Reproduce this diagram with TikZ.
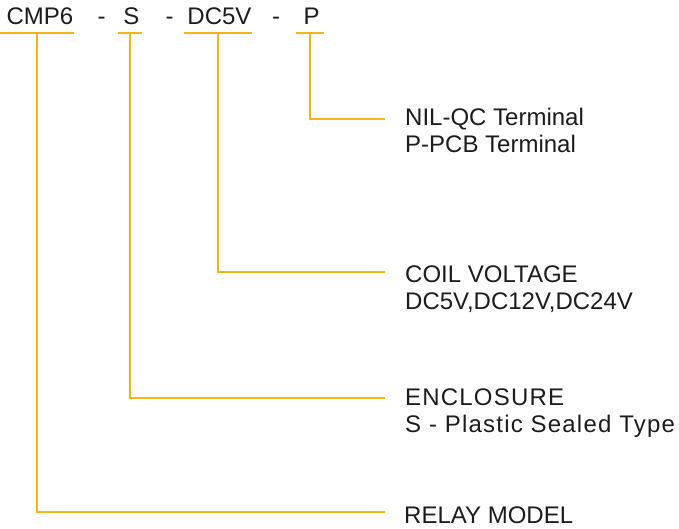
\documentclass[tikz,border=0pt]{standalone}
\usepackage{fontspec}
\setmainfont{Liberation Sans}
\newfontfamily\widefont[LetterSpace=5]{Liberation Sans}
\usepackage{xcolor}
\usepackage{tikz}
\usetikzlibrary{positioning}
\definecolor{leadcolor}{RGB}{246,180,22}
\definecolor{inkcolor}{RGB}{30,27,28}

\tikzset{
    codefont/.style={font=\fontsize{24}{27}\selectfont},
    part/.style={codefont, text=inkcolor, anchor=base, inner xsep=0pt, inner ysep=8pt, text height=17pt, text depth=0pt},
    lead/.style={draw=leadcolor, line width=1.9pt},
    desc/.style={codefont, text=inkcolor, anchor=base west, align=left, inner sep=0pt}
}

\begin{document}
\begin{tikzpicture}[x=1pt, y=-1pt]
    \useasboundingbox (0,0) rectangle (679,529);

    % Part number
    \node[part, minimum width=66pt] (model) at (37,25) {\hspace{6pt}CMP6};
    \node[part] (dashA) at (101.5,25) {-};
    \node[part, minimum width=24pt] (encl) at (130,25) {\hspace{3pt}S};
    \node[part] (dashB) at (169.5,25) {-};
    \node[part, minimum width=56pt] (coil) at (218,25) {\hspace{3pt}DC5V};
    \node[part] (dashC) at (276,25) {-};
    \node[part, minimum width=28pt] (term) at (310,25) {\hspace{3pt}P};

    % Underlines
    \foreach \p in {model, encl, coil, term}
        \draw[lead] (\p.south west) -- (\p.south east);

    % Line ends
    \coordinate (termend) at (385,119);
    \coordinate (coilend) at (385,272);
    \coordinate (enclend) at (385,398);
    \coordinate (modelend) at (385,512);

    % Descriptions (base is the last line)
    \node[desc] (termtext) at (405,153) {NIL-QC Terminal\\P-PCB Terminal};
    \node[desc] (coiltext) at (405,309) {COIL VOLTAGE\\DC5V,DC12V,DC24V};
    \node[desc, font=\fontsize{24}{27}\widefont] (encltext) at (405,432) {ENCLOSURE\\S - Plastic Sealed Type};
    \node[desc] (modeltext) at (404,523) {RELAY MODEL};

    % Leads
    \draw[lead] (term.south) |- (termend);
    \draw[lead] (coil.south) |- (coilend);
    \draw[lead] (encl.south) |- (enclend);
    \draw[lead] (model.south) |- (modelend);
\end{tikzpicture}
\end{document}
